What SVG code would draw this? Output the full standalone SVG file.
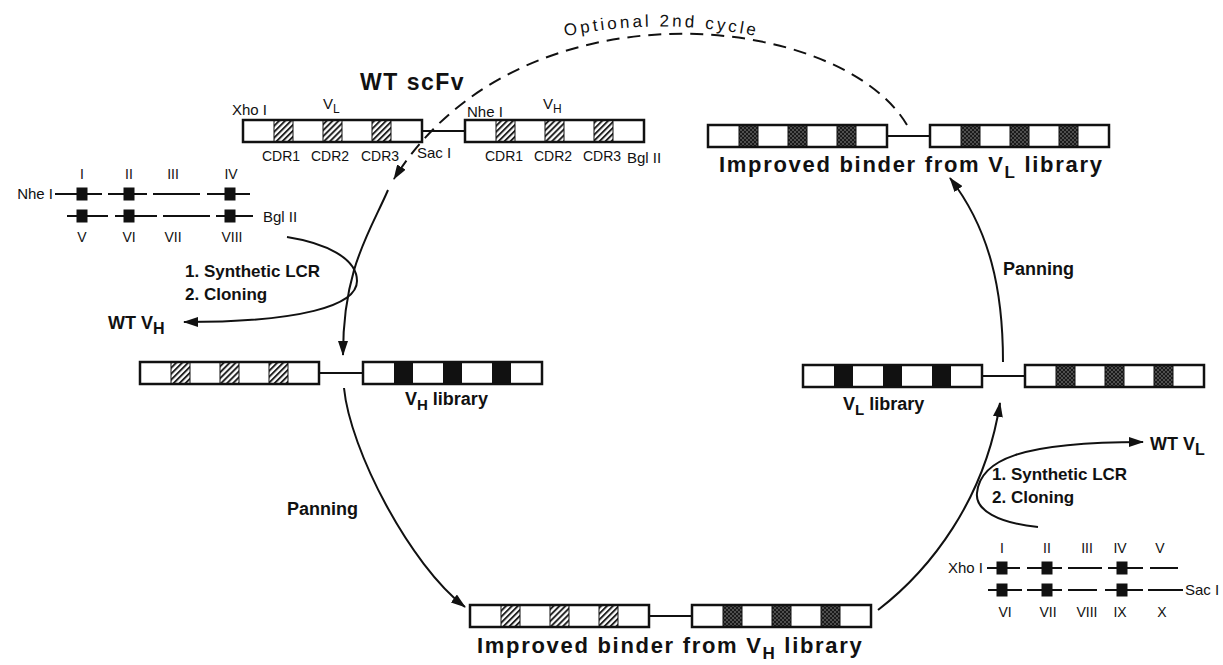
<svg xmlns="http://www.w3.org/2000/svg" width="1223" height="665" viewBox="0 0 1223 665">
<style>
text{font-family:"Liberation Sans",Arial,sans-serif;fill:#111}
.sm{font-size:14px}
.rs{font-size:15px}
.md{font-size:17px;font-weight:bold}
.lg{font-size:18px;font-weight:bold}
.big{font-size:22px;font-weight:bold;letter-spacing:1.7px}
.conn{fill:none;stroke:#111;stroke-width:2}
.dash{fill:none;stroke:#111;stroke-width:2;stroke-dasharray:13 8}
.link{stroke:#111;stroke-width:2}
.olig{stroke:#111;stroke-width:2}
.blk{fill:#111}
</style>
<defs>
<pattern id="hatch" patternUnits="userSpaceOnUse" width="4.2" height="4.2" patternTransform="rotate(45)">
<rect width="4.2" height="4.2" fill="#fff"/>
<line x1="1" y1="0" x2="1" y2="4.2" stroke="#1a1a1a" stroke-width="1.9"/>
</pattern>
<pattern id="dots" patternUnits="userSpaceOnUse" width="4" height="4">
<rect width="4" height="4" fill="#1a1a1a"/>
<circle cx="1" cy="1" r="0.7" fill="#aaa"/>
<circle cx="3" cy="3" r="0.7" fill="#aaa"/>
</pattern>
<marker id="ah" markerUnits="userSpaceOnUse" viewBox="0 0 15 10" markerWidth="15" markerHeight="10" refX="14" refY="5" orient="auto">
<path d="M0,0 L15,5 L0,10 Z" fill="#111"/>
</marker>
<g id="box-hatch">
<rect x="0" y="0" width="179" height="22" fill="#fff"/>
<rect x="31" y="0" width="19" height="22" fill="url(#hatch)" stroke="#111" stroke-width="1"/>
<rect x="80" y="0" width="19" height="22" fill="url(#hatch)" stroke="#111" stroke-width="1"/>
<rect x="129" y="0" width="19" height="22" fill="url(#hatch)" stroke="#111" stroke-width="1"/>
<rect x="0" y="0" width="179" height="22" fill="none" stroke="#111" stroke-width="2.5"/>
</g>
<g id="box-solid">
<rect x="0" y="0" width="179" height="22" fill="#fff"/>
<rect x="31" y="0" width="19" height="22" fill="#111"/>
<rect x="80" y="0" width="19" height="22" fill="#111"/>
<rect x="129" y="0" width="19" height="22" fill="#111"/>
<rect x="0" y="0" width="179" height="22" fill="none" stroke="#111" stroke-width="2.5"/>
</g>
<g id="box-dots">
<rect x="0" y="0" width="179" height="22" fill="#fff"/>
<rect x="31" y="0" width="19" height="22" fill="url(#dots)" stroke="#111" stroke-width="1"/>
<rect x="80" y="0" width="19" height="22" fill="url(#dots)" stroke="#111" stroke-width="1"/>
<rect x="129" y="0" width="19" height="22" fill="url(#dots)" stroke="#111" stroke-width="1"/>
<rect x="0" y="0" width="179" height="22" fill="none" stroke="#111" stroke-width="2.5"/>
</g>
</defs>
<rect width="1223" height="665" fill="#fff"/>

<g id="connectors">
<path class="dash" d="M907,125 C840,12 520,-23 394,179" marker-end="url(#ah)"/>
<path class="conn" d="M388,190 C370,232 343,268 343,355" marker-end="url(#ah)"/>
<path class="conn" d="M287,237 C325,243 357,258 357,281 C357,306 300,322 184,322" marker-end="url(#ah)"/>
<path class="conn" d="M344,388 C350,450 410,565 465,607" marker-end="url(#ah)"/>
<path class="conn" d="M878,610 C930,570 985,500 1000,403" marker-end="url(#ah)"/>
<path class="conn" d="M1038,527 C998,523 975,510 977,493 C980,460 1020,442 1143,442" marker-end="url(#ah)"/>
<path class="conn" d="M1003,362 C1003,290 990,230 950,178" marker-end="url(#ah)"/>
</g>

<g id="cycle-label">
<path id="arcText" d="M545,41 Q660,12 778,41" fill="none"/>
<text style="font-size:17px;letter-spacing:3px" text-anchor="middle"><textPath href="#arcText" startOffset="50%">Optional 2nd cycle</textPath></text>
</g>

<g id="wt-scfv">
<text x="360" y="90" style="font-size:23px;font-weight:bold;letter-spacing:1.5px">WT scFv</text>
<use href="#box-hatch" x="243" y="120"/>
<line class="link" x1="422" y1="131" x2="465" y2="131"/>
<use href="#box-hatch" x="465" y="120"/>
<text class="rs" x="232" y="115">Xho I</text>
<text class="rs" x="323" y="109">V<tspan font-size="12" dy="4">L</tspan></text>
<text class="rs" x="467" y="117">Nhe I</text>
<text class="rs" x="543" y="109">V<tspan font-size="12" dy="4">H</tspan></text>
<text class="sm" x="262" y="161">CDR1</text>
<text class="sm" x="311" y="161">CDR2</text>
<text class="sm" x="361" y="161">CDR3</text>
<text class="rs" x="417" y="158">Sac I</text>
<text class="sm" x="485" y="161">CDR1</text>
<text class="sm" x="534" y="161">CDR2</text>
<text class="sm" x="583" y="161">CDR3</text>
<text class="rs" x="627" y="163">Bgl II</text>
</g>

<g id="vh-oligos">
<g class="sm" text-anchor="middle">
<text x="82" y="179">I</text><text x="129" y="179">II</text><text x="173" y="179">III</text><text x="231" y="179">IV</text>
<text x="82" y="242">V</text><text x="129" y="242">VI</text><text x="173" y="242">VII</text><text x="232" y="242">VIII</text>
</g>
<text class="rs" x="53" y="199" text-anchor="end">Nhe I</text>
<text class="rs" x="263" y="222">Bgl II</text>
<line class="olig" x1="55" y1="194" x2="102" y2="194"/>
<line class="olig" x1="108" y1="194" x2="147" y2="194"/>
<line class="olig" x1="153" y1="194" x2="200" y2="194"/>
<line class="olig" x1="207" y1="194" x2="250" y2="194"/>
<line class="olig" x1="67" y1="216" x2="108" y2="216"/>
<line class="olig" x1="115" y1="216" x2="157" y2="216"/>
<line class="olig" x1="163" y1="216" x2="210" y2="216"/>
<line class="olig" x1="216" y1="216" x2="253" y2="216"/>
<rect class="blk" x="76.5" y="187.5" width="11" height="13"/>
<rect class="blk" x="123.5" y="187.5" width="11" height="13"/>
<rect class="blk" x="224.5" y="187.5" width="11" height="13"/>
<rect class="blk" x="76.5" y="209.5" width="11" height="13"/>
<rect class="blk" x="123.5" y="209.5" width="11" height="13"/>
<rect class="blk" x="224.5" y="209.5" width="11" height="13"/>
</g>

<g id="vh-lcr-label">
<text class="md" x="185" y="277">1. Synthetic LCR</text>
<text class="md" x="185" y="300">2. Cloning</text>
</g>
<g id="wt-vh">
<text class="lg" x="108" y="329">WT  V<tspan font-size="16" dy="5">H</tspan></text>
</g>

<g id="vh-library">
<use href="#box-hatch" x="140" y="362"/>
<line class="link" x1="319" y1="373" x2="363" y2="373"/>
<use href="#box-solid" x="363" y="362"/>
<text class="lg" x="405" y="405">V<tspan font-size="15" dy="5">H</tspan><tspan dy="-5"> library</tspan></text>
</g>

<g id="panning-left"><text class="lg" x="287" y="515">Panning</text></g>

<g id="improved-vh">
<use href="#box-hatch" x="470" y="605"/>
<line class="link" x1="649" y1="616" x2="692" y2="616"/>
<use href="#box-dots" x="692" y="605"/>
<text class="big" x="477" y="653">Improved binder from V<tspan font-size="17" dy="6">H</tspan><tspan dy="-6"> library</tspan></text>
</g>

<g id="vl-oligos">
<g class="sm" text-anchor="middle">
<text x="1002" y="553">I</text><text x="1047" y="553">II</text><text x="1087" y="553">III</text><text x="1120" y="553">IV</text><text x="1160" y="553">V</text>
<text x="1005" y="617">VI</text><text x="1048" y="617">VII</text><text x="1087" y="617">VIII</text><text x="1120" y="617">IX</text><text x="1162" y="617">X</text>
</g>
<text class="rs" x="983" y="573" text-anchor="end">Xho I</text>
<text class="rs" x="1185" y="595">Sac I</text>
<line class="olig" x1="987" y1="568" x2="1020" y2="568"/>
<line class="olig" x1="1027" y1="568" x2="1062" y2="568"/>
<line class="olig" x1="1068" y1="568" x2="1102" y2="568"/>
<line class="olig" x1="1108" y1="568" x2="1143" y2="568"/>
<line class="olig" x1="1150" y1="568" x2="1178" y2="568"/>
<line class="olig" x1="988" y1="590" x2="1022" y2="590"/>
<line class="olig" x1="1027" y1="590" x2="1062" y2="590"/>
<line class="olig" x1="1068" y1="590" x2="1097" y2="590"/>
<line class="olig" x1="1105" y1="590" x2="1143" y2="590"/>
<line class="olig" x1="1148" y1="590" x2="1183" y2="590"/>
<rect class="blk" x="996.5" y="561.5" width="11" height="13"/>
<rect class="blk" x="1041.5" y="561.5" width="11" height="13"/>
<rect class="blk" x="1116.5" y="561.5" width="11" height="13"/>
<rect class="blk" x="996.5" y="583.5" width="11" height="13"/>
<rect class="blk" x="1041.5" y="583.5" width="11" height="13"/>
<rect class="blk" x="1116.5" y="583.5" width="11" height="13"/>
</g>

<g id="vl-lcr-label">
<text class="md" x="992" y="480">1. Synthetic LCR</text>
<text class="md" x="992" y="503">2. Cloning</text>
</g>
<g id="wt-vl">
<text class="lg" x="1150" y="450">WT  V<tspan font-size="16" dy="5">L</tspan></text>
</g>

<g id="vl-library">
<use href="#box-solid" x="803" y="365"/>
<line class="link" x1="982" y1="376" x2="1025" y2="376"/>
<use href="#box-dots" x="1025" y="365"/>
<text class="lg" x="843" y="410">V<tspan font-size="15" dy="5">L</tspan><tspan dy="-5"> library</tspan></text>
</g>

<g id="panning-right"><text class="lg" x="1003" y="275">Panning</text></g>

<g id="improved-vl">
<use href="#box-dots" x="708" y="125"/>
<line class="link" x1="887" y1="136" x2="930" y2="136"/>
<use href="#box-dots" x="930" y="125"/>
<text class="big" x="719" y="172">Improved binder from V<tspan font-size="17" dy="6">L</tspan><tspan dy="-6"> library</tspan></text>
</g>
</svg>
